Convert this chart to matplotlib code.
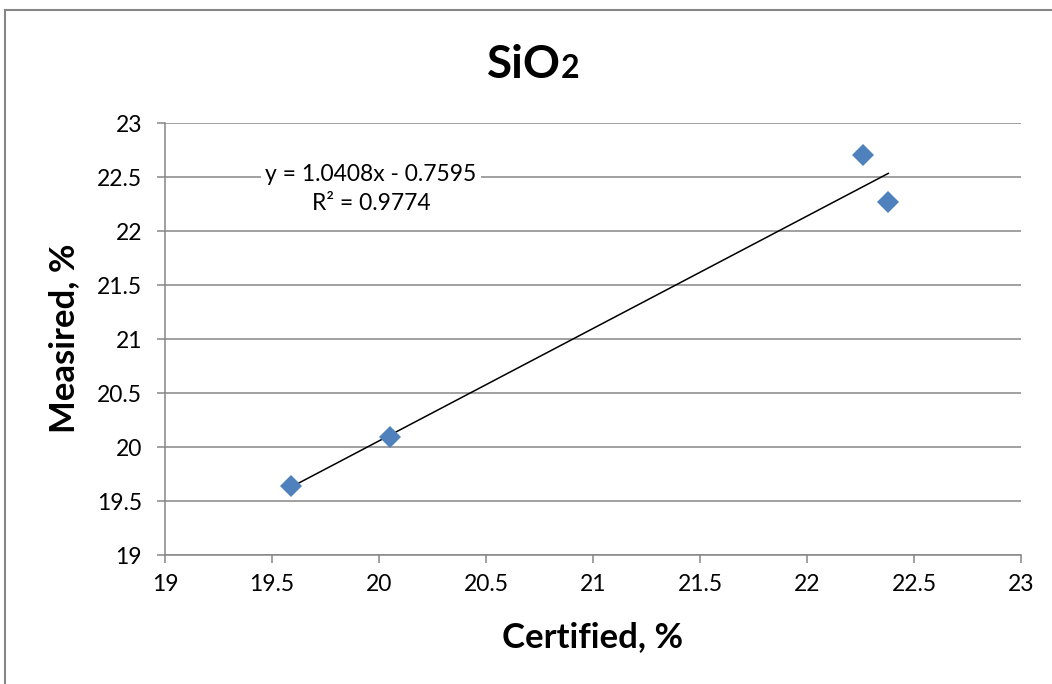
import matplotlib
matplotlib.use("Agg")
import matplotlib.pyplot as plt
from matplotlib.lines import Line2D
import numpy as np

plt.rcParams['font.family'] = ['Lato', 'DejaVu Sans']

# data
certified = [19.59, 20.05, 22.26, 22.38]
measured = [19.64, 20.09, 22.70, 22.27]
slope, intercept = 1.0408, -0.7595
r2 = 0.9774
ticks = [19, 19.5, 20, 20.5, 21, 21.5, 22, 22.5, 23]
tick_labels = ["19", "19.5", "20", "20.5", "21", "21.5", "22", "22.5", "23"]

grey = "#868686"
blue = "#4F81BD"

fig = plt.figure(figsize=(10.52, 6.84), dpi=100)
ax = fig.add_axes([165 / 1052, 1 - 555 / 684, (1021 - 165) / 1052, (555 - 123) / 684])

ax.set_xlim(19, 23)
ax.set_ylim(19, 23)
ax.set_xticks(ticks)
ax.set_xticklabels(tick_labels)
ax.set_yticks(ticks)
ax.set_yticklabels(tick_labels)
ax.yaxis.grid(True, color=grey, lw=1.1)
ax.set_axisbelow(True)
for s in ["top", "right"]:
    ax.spines[s].set_visible(False)
for s in ["left", "bottom"]:
    ax.spines[s].set_color(grey)
    ax.spines[s].set_linewidth(1.1)
ax.tick_params(axis="both", colors=grey, labelcolor="black", labelsize=16.5,
               length=5.5, width=1.1, direction="out")
ax.tick_params(axis="y", pad=11)
ax.tick_params(axis="x", pad=8)

# trendline
xs = np.array([min(certified), max(certified)])
ax.plot(xs, slope * xs + intercept, color="black", lw=1.1, zorder=3)
ax.plot(certified, measured, linestyle="none", marker="D", markersize=11,
        color=blue, markeredgewidth=0, zorder=4)

ax.text(19.963, 22.39, f"y = {slope:.4f}x - {-intercept:.4f}\nR² = {r2:.4f}",
        ha="center", va="center", fontsize=16.5, linespacing=1.45,
        bbox=dict(facecolor="white", edgecolor="none", pad=3), zorder=5)

fig.text(64 / 1052, 1 - 338 / 684, "Measired, %", rotation=90, ha="center", va="center",
         fontsize=25, fontweight="bold")
fig.text(593 / 1052, 1 - 637 / 684, "Certified, %", ha="center", va="center",
         fontsize=25, fontweight="bold")

# title with small "2"
r = fig.canvas.get_renderer()
t1 = fig.text(0, 1 - 78 / 684, "SiO", fontsize=33, fontweight="bold", va="baseline")
t2 = fig.text(0, 1 - 78 / 684, "2", fontsize=23, fontweight="bold", va="baseline")
w1 = t1.get_window_extent(r).width
w2 = t2.get_window_extent(r).width
x0 = 533 - (w1 + w2) / 2
t1.set_x(x0 / 1052)
t2.set_x((x0 + w1) / 1052)

# chart border
fig.add_artist(Line2D([5 / 1052, 1.0], [1 - 10 / 684, 1 - 10 / 684], color=grey, lw=1.5))
fig.add_artist(Line2D([5 / 1052, 5 / 1052], [0, 1 - 10 / 684], color=grey, lw=1.5))

fig.savefig("out.png", dpi=100)
